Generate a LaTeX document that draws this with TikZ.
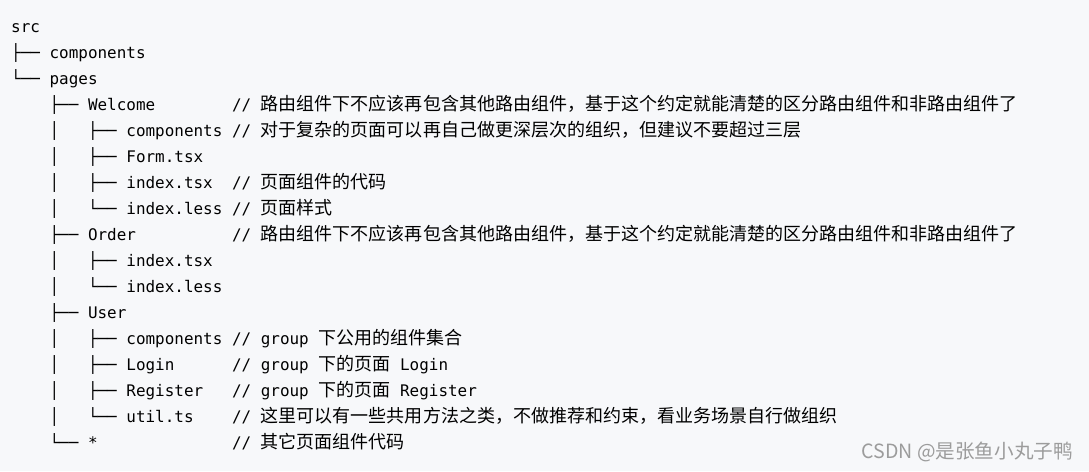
\documentclass[tikz,border=0pt]{standalone}
\usepackage{fontspec}
\setmonofont{DejaVu Sans Mono}
\newfontfamily\cjk[Scale=1.13]{Noto Sans CJK SC}
\newfontfamily\wmfont{Noto Sans CJK SC}
\definecolor{codebg}{HTML}{F7F8FA}
\definecolor{wmgray}{HTML}{9C9C9C}
\begin{document}
\begin{tikzpicture}[x=1pt,y=-1pt,font=\ttfamily\fontsize{15.95}{26}\selectfont,
	txt/.style={anchor=base west,inner sep=0pt}]
	\def\cw{9.6} % column width
	\def\lh{26} % line height
	\fill[codebg] (0,0) rectangle (1089,471);
	\node[txt] (n0) at (11,32) {src};
	\foreach \i/\c/\t/\n in {1/0/├──/components,2/0/└──/pages,
		3/4/├──/Welcome,4/8/├──/components,5/8/├──/Form.tsx,6/8/├──/index.tsx,7/8/└──/index.less,
		8/4/├──/Order,9/8/├──/index.tsx,10/8/└──/index.less,
		11/4/├──/User,12/8/├──/components,13/8/├──/Login,14/8/├──/Register,15/8/└──/util.ts,
		16/4/└──/*}{
		\node[txt] (t\i) at ({11+\c*\cw},{32+\i*\lh}) {\t};
		\node[txt] (n\i) at ({11+(\c+4)*\cw},{32+\i*\lh}) {\n};}
	\foreach \i in {4,5,6,7,9,10,12,13,14,15}{
		\node[txt] (v\i) at ({11+4*\cw},{32+\i*\lh}) {│};}
	% comments
	\foreach \i/\cm in {3/{\cjk 路由组件下不应该再包含其他路由组件，基于这个约定就能清楚的区分路由组件和非路由组件了},
		4/{\cjk 对于复杂的页面可以再自己做更深层次的组织，但建议不要超过三层},
		6/{\cjk 页面组件的代码},7/{\cjk 页面样式},
		8/{\cjk 路由组件下不应该再包含其他路由组件，基于这个约定就能清楚的区分路由组件和非路由组件了},
		12/group {\cjk 下公用的组件集合},13/group {\cjk 下的页面} Login,14/group {\cjk 下的页面} Register,
		15/{\cjk 这里可以有一些共用方法之类，不做推荐和约束，看业务场景自行做组织},
		16/{\cjk 其它页面组件代码}}{
		\node[txt] (c\i) at ({11+23*\cw},{32+\i*\lh}) {// \cm};}
	\node[anchor=base east,inner sep=0pt,text=wmgray,font=\wmfont\fontsize{19.6}{19.6}\selectfont] (mark) at (1073,458) {CSDN @是张鱼小丸子鸭};
\end{tikzpicture}
\end{document}
